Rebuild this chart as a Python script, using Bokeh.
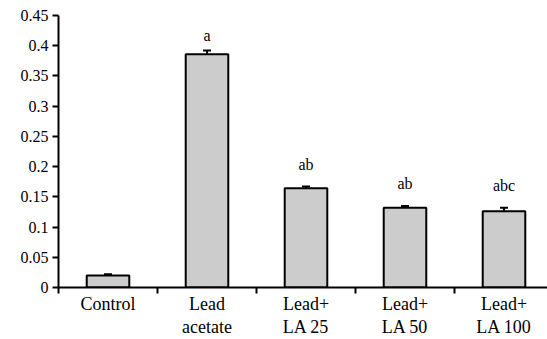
from bokeh.plotting import figure
from bokeh.models import Range1d, FixedTicker, Whisker, TeeHead, ColumnDataSource, CustomJSTickFormatter
from bokeh.core.properties import value
from bokeh.embed import file_html
from bokeh.resources import INLINE

categories = ["Control", "Lead\nacetate", "Lead+\nLA 25", "Lead+\nLA 50", "Lead+\nLA 100"]
values = [0.020, 0.386, 0.164, 0.132, 0.126]
errors = [0.002, 0.006, 0.003, 0.003, 0.006]
letters = ["", "a", "ab", "ab", "abc"]
letter_y = [0.03, 0.417, 0.203, 0.172, 0.168]
y_ticks = [0, 0.05, 0.1, 0.15, 0.2, 0.25, 0.3, 0.35, 0.4, 0.45]
y_tick_labels = ["0", "0.05", "0.1", "0.15", "0.2", "0.25", "0.3", "0.35", "0.4", "0.45"]

FONT = "Liberation Serif"

xs = [i + 0.5 for i in range(len(categories))]
tops = [v + e for v, e in zip(values, errors)]
src = ColumnDataSource(dict(x=xs, v=values, top=tops, lab=letters, ly=letter_y))

p = figure(width=547, height=339, output_backend="svg", toolbar_location=None,
           x_range=Range1d(0, 489 / 99), y_range=Range1d(0, 0.45),
           min_border_left=58, min_border_right=0, min_border_top=15, min_border_bottom=52)
p.outline_line_color = None
p.grid.grid_line_color = None

p.vbar(x="x", top="v", bottom=0, width=0.43, source=src,
       fill_color="#cccccc", line_color="black", line_width=2)

w = Whisker(base="x", upper="top", lower="v", source=src, dimension="height",
            line_color="black", line_width=2,
            upper_head=TeeHead(size=8, line_width=2, line_color="black"), lower_head=None)
p.add_layout(w)

p.text(x="x", y="ly", text="lab", source=src, text_align="center", text_baseline="alphabetic",
       text_font=value(FONT), text_font_size="16px", text_color="black")

# tick labels as serif text (axis labels ignore the font family in SVG output)
p.text(x=[0] * len(y_ticks), y=y_ticks, text=y_tick_labels, x_offset=-10,
       text_align="right", text_baseline="middle",
       text_font=value(FONT), text_font_size="16px", text_color="black", level="overlay")
p.text(x=xs, y=[0] * len(xs), text=categories, y_offset=6,
       text_align="center", text_baseline="top", text_line_height=1.15,
       text_font=value(FONT), text_font_size="18px", text_color="black", level="overlay")

blank = CustomJSTickFormatter(code="return '';")

ax = p.xaxis[0]
ax.ticker = FixedTicker(ticks=xs, minor_ticks=list(range(len(categories) + 1)))
ax.formatter = blank
ax.major_tick_out = 0
ax.major_tick_in = 0
ax.minor_tick_out = 6
ax.minor_tick_in = 0
ax.minor_tick_line_width = 2
ax.axis_line_width = 2

ay = p.yaxis[0]
ay.ticker = FixedTicker(ticks=y_ticks)
ay.formatter = blank
ay.minor_tick_line_color = None
ay.major_tick_out = 6
ay.major_tick_in = 0
ay.major_tick_line_width = 2
ay.axis_line_width = 2

open("out.html", "w").write(file_html(p, INLINE))
